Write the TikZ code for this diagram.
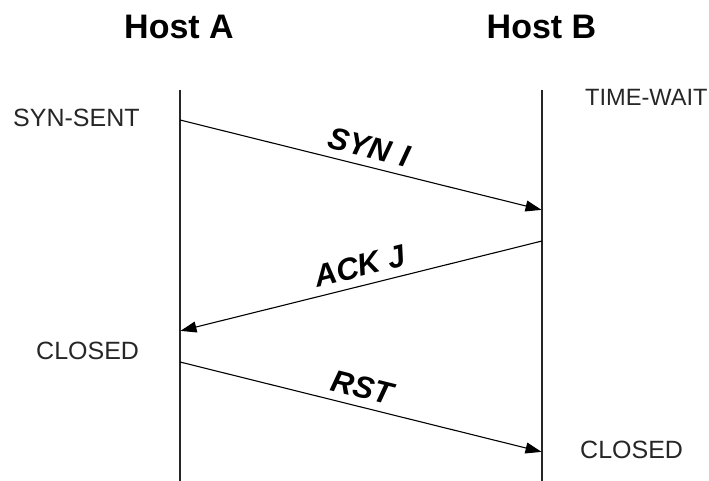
\documentclass[tikz,border=0pt]{standalone}
\usepackage{fontspec}
\setmainfont{Liberation Sans}
\usetikzlibrary{arrows.meta}
\begin{document}
\begin{tikzpicture}[x=1pt,y=1pt,
  host/.style={font=\fontsize{34}{40}\selectfont\bfseries, inner sep=0pt, anchor=base},
  state/.style={font=\fontsize{25}{30}\selectfont, inner sep=0pt, text=black!85, anchor=base west},
  lifeline/.style={line width=1.8pt, black!85},
  msg/.style={line width=1.1pt, -{Triangle[length=16pt,width=11pt]}, shorten >=0.5pt},
  msglabel/.style={font=\fontsize{31}{36}\selectfont\bfseries\itshape, sloped, above=8pt, inner sep=0pt}]
\useasboundingbox (0,0) rectangle (709,-481);
% hosts
\node[host] (hA) at (179,-39) {Host A};
\node[host] (hB) at (541.5,-39) {Host B};
% lifelines
\coordinate (Atop) at (180,-90);
\coordinate (Abot) at (180,-481);
\coordinate (Btop) at (542,-90);
\coordinate (Bbot) at (542,-481);
\draw[lifeline] (Atop) -- (Abot);
\draw[lifeline] (Btop) -- (Bbot);
% states
\node[state] (ss) at (13,-127) {SYN-SENT};
\node[state, font=\fontsize{23.6}{30}\selectfont] (tw) at (585,-106) {TIME-WAIT};
\node[state] (ca) at (36,-359) {CLOSED};
\node[state] (cb) at (580,-458) {CLOSED};
% message end points
\coordinate (m1s) at (180,-120);
\coordinate (m1e) at (542,-210);
\coordinate (m2s) at (542,-241);
\coordinate (m2e) at (180,-331);
\coordinate (m3s) at (180,-362);
\coordinate (m3e) at (542,-452);
\draw[msg] (m1s) -- node[msglabel, pos=0.51] (l1) {SYN\hspace{2pt} I} (m1e);
\draw[msg] (m2s) -- node[msglabel, pos=0.49] (l2) {ACK J} (m2e);
\draw[msg] (m3s) -- node[msglabel, pos=0.49] (l3) {RST} (m3e);
\end{tikzpicture}
\end{document}
